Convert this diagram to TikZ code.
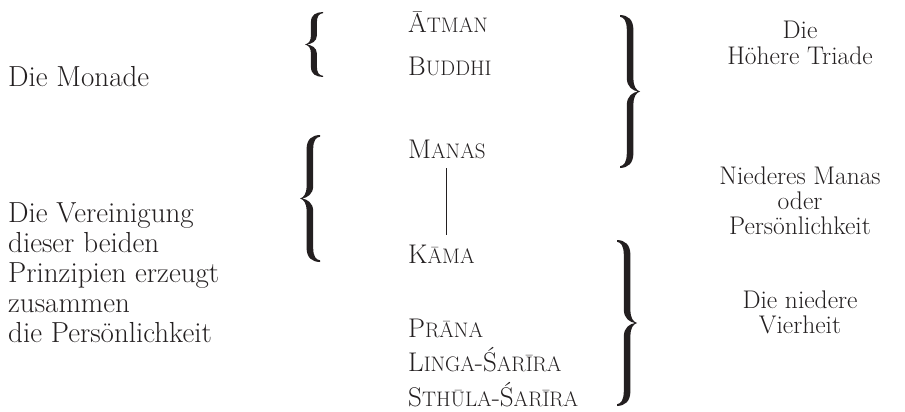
\documentclass[tikz,border=0pt]{standalone}
\usepackage{fontspec}
\setmainfont{Latin Modern Roman}
\usetikzlibrary{calc}
\definecolor{ink}{HTML}{231F20}
\newcommand\scx[2]{#1{\fontsize{21}{21}\selectfont #2}}
% #1 tip x, #2 mid y, #3 half height, #4 signed width, #5 curl length
\newcommand\mybrace[5]{%
  \fill[ink]
  ({#1+#4},{#2-#3})
  .. controls ({#1+0.6*#4},{#2-#3+0.02*#5}) and ({#1+0.33*#4},{#2-#3+0.3*#5}) .. ({#1+0.33*#4},{#2-#3+#5})
  -- ({#1+0.33*#4},{#2-0.9*#5})
  .. controls ({#1+0.33*#4},{#2-0.35*#5}) and ({#1+0.2*#4},{#2-0.08*#5}) .. ({#1},{#2})
  .. controls ({#1+0.2*#4},{#2+0.08*#5}) and ({#1+0.33*#4},{#2+0.35*#5}) .. ({#1+0.33*#4},{#2+0.9*#5})
  -- ({#1+0.33*#4},{#2+#3-#5})
  .. controls ({#1+0.33*#4},{#2+#3-0.3*#5}) and ({#1+0.6*#4},{#2+#3-0.02*#5}) .. ({#1+#4},{#2+#3})
  -- ({#1+#4},{#2+#3-0.12*#5})
  .. controls ({#1+0.8*#4},{#2+#3-0.15*#5}) and ({#1+0.66*#4},{#2+#3-0.4*#5}) .. ({#1+0.66*#4},{#2+#3-#5})
  -- ({#1+0.66*#4},{#2+0.9*#5})
  .. controls ({#1+0.66*#4},{#2+0.3*#5}) and ({#1+0.35*#4},{#2+0.05*#5}) .. ({#1+0.1*#4},{#2})
  .. controls ({#1+0.35*#4},{#2-0.05*#5}) and ({#1+0.66*#4},{#2-0.3*#5}) .. ({#1+0.66*#4},{#2-0.9*#5})
  -- ({#1+0.66*#4},{#2-#3+#5})
  .. controls ({#1+0.66*#4},{#2-#3+0.4*#5}) and ({#1+0.8*#4},{#2-#3+0.15*#5}) .. ({#1+#4},{#2-#3+0.12*#5})
  -- cycle;}
\begin{document}
\begin{tikzpicture}[x=1pt,y=-1pt,
  txt/.style={text=ink, inner sep=0pt, font=\fontsize{29}{30}\selectfont},
  lefttxt/.style={txt, align=left, anchor=base west},
  midtxt/.style={txt, anchor=base west, font=\fontsize{27}{30}\selectfont},
  righttxt/.style={txt, align=center, anchor=base, font=\fontsize{25.5}{25}\selectfont}]
\useasboundingbox (0,0) rectangle (905,412);
% left column
\node[lefttxt] (monade) at (8,86) {Die Monade};
\node[lefttxt] (verein) at (8,342) {Die Vereinigung\\dieser beiden\\Prinzipien erzeugt\\zusammen\\die Persönlichkeit};
% middle column
\node[midtxt] (atman)  at (408,33)  {\scx{Ā}{TMAN}};
\node[midtxt] (buddhi) at (408,76)  {\scx{B}{UDDHI}};
\node[midtxt] (manas)  at (408,158) {\scx{M}{ANAS}};
\node[midtxt] (kama)   at (408,263) {\scx{K}{ĀMA}};
\node[midtxt] (prana)  at (408,337) {\scx{P}{RĀNA}};
\node[midtxt] (linga)  at (408,371) {\scx{L}{INGA}-\scx{Ś}{ARĪRA}};
\node[midtxt] (sthula) at (408,406) {\scx{S}{THŪLA}-\scx{Ś}{ARĪRA}};
\draw[ink, line width=1pt] ($(manas.base west)+(38,10)$) -- ($(kama.base west)+(38,-28)$);
% right column
\node[righttxt] (triade) at (800,64)  {Die\\Höhere Triade};
\node[righttxt] (nmanas) at (800,234) {Niederes Manas\\oder\\Persönlichkeit};
\node[righttxt] (vierh)  at (800,333) {Die niedere\\Vierheit};
% braces
\mybrace{305}{44.5}{32.5}{18}{10}
\mybrace{300}{198.5}{63.5}{20}{14}
\mybrace{640}{91.5}{76.5}{-20}{15}
\mybrace{637}{323}{83}{-20}{15}
\end{tikzpicture}
\end{document}
